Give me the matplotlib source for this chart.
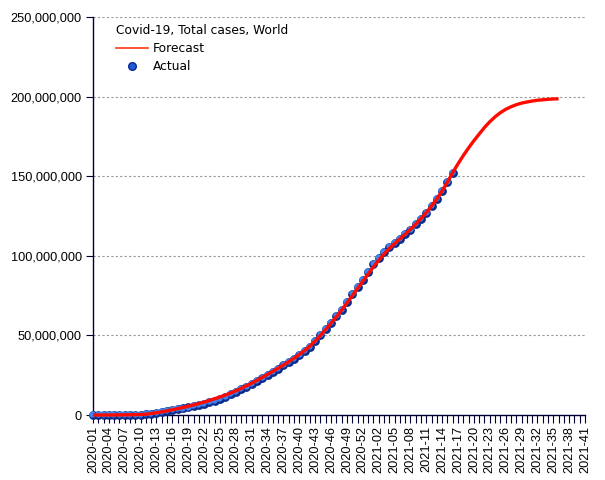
import numpy as np
import matplotlib
matplotlib.use("Agg")
import matplotlib.pyplot as plt
from matplotlib.lines import Line2D
from matplotlib.ticker import FuncFormatter, MultipleLocator
import matplotlib.transforms as mtransforms

# weekly categories 2020-01 .. 2021-41 (2020 has 53 ISO weeks)
weeks = [f"2020-{w:02d}" for w in range(1, 54)] + [f"2021-{w:02d}" for w in range(1, 42)]

# actual cumulative cases (millions), one value per week from 2020-01
actual_m = [0.0, 0.001, 0.003, 0.017, 0.040, 0.069, 0.079, 0.087, 0.11, 0.17,
            0.34, 0.72, 1.27, 1.85, 2.41, 2.97, 3.50, 4.10, 4.72, 5.40,
            6.20, 7.00, 7.92, 8.95, 10.1, 11.4, 12.9, 14.5, 16.2, 17.9,
            19.7, 21.6, 23.4, 25.3, 27.2, 29.2, 31.2, 33.2, 35.3, 37.6,
            40.1, 43.0, 46.5, 50.3, 54.1, 58.0, 62.0, 66.1, 70.8, 75.8,
            80.5, 84.6, 90.0, 94.6, 98.5, 102.3, 105.4, 108.2, 110.8, 113.5,
            116.5, 119.9, 123.3, 126.9, 131.0, 135.5, 140.6, 146.3, 152.3]

# forecast (millions), from 2020-01 to 2021-36
forecast_m = [0.0, 0.0, 0.0, 0.0, 0.0, 0.05, 0.1, 0.15, 0.2, 0.3,
              0.5, 0.9, 1.4, 2.0, 2.6, 3.3, 4.0, 4.7, 5.5, 6.3,
              7.2, 8.1, 9.1, 10.2, 11.3, 12.5, 13.8, 15.2, 16.7, 18.3,
              20.0, 21.8, 23.6, 25.5, 27.4, 29.4, 31.4, 33.5, 35.7, 38.0,
              40.5, 43.3, 46.5, 50.0, 53.8, 57.7, 61.7, 65.9, 70.3, 74.9,
              79.5, 84.0, 88.5, 93.0, 97.2, 101.1, 104.6, 107.7, 110.6, 113.5,
              116.6, 119.9, 123.4, 127.2, 131.3, 135.8, 140.8, 146.3, 152.3, 157.8,
              163.0, 167.8, 172.3, 176.5, 180.6, 184.2, 187.3, 189.9, 192.0, 193.6,
              194.9, 195.9, 196.6, 197.2, 197.7, 198.0, 198.3, 198.5, 198.6]

actual = np.array(actual_m) * 1e6
forecast = np.array(forecast_m) * 1e6
x_act = np.arange(len(actual))
x_fc = np.arange(len(forecast))

navy = "#000033"

fig = plt.figure(figsize=(6.05, 4.8), dpi=100)
ax = fig.add_axes([93 / 605, 65 / 480, 492 / 605, 398 / 480])

# blue "spheres": dark base + lighter highlight
ax.plot(x_act, actual, "o", ms=5.3, mfc="#0b2a8a", mec="#0b2a8a", clip_on=False, zorder=3)
hl = mtransforms.offset_copy(ax.transData, fig=fig, x=-0.5, y=0.7, units="points")
ax.plot(x_act, actual, "o", ms=3.5, mfc="#3f86f0", mec="#3f86f0", transform=hl, clip_on=False, zorder=3)

ax.plot(x_fc, forecast, color="#ff0a00", lw=2.4, solid_capstyle="butt", clip_on=False, zorder=4)

ax.set_xlim(0, len(weeks) - 1)
ax.set_ylim(0, 250e6)
ax.yaxis.set_major_locator(MultipleLocator(50e6))
ax.yaxis.set_major_formatter(FuncFormatter(lambda v, p: f"{int(v):,}"))
ax.set_xticks(np.arange(len(weeks)))
ax.set_xticklabels([w if i % 3 == 0 else "" for i, w in enumerate(weeks)], rotation=90)

for s in ["top", "right"]:
    ax.spines[s].set_visible(False)
for s in ["left", "bottom"]:
    ax.spines[s].set_color(navy)
    ax.spines[s].set_linewidth(1.0)

ax.tick_params(axis="y", length=5, color=navy, labelsize=9.2, pad=3)
ax.tick_params(axis="x", length=6, color=navy, labelsize=9.2, pad=2)
for lab in ax.get_xticklabels() + ax.get_yticklabels():
    lab.set_family("Liberation Sans")

ax.grid(axis="y", color="#999999", linestyle=(0, (2, 2)), linewidth=0.8)
ax.set_axisbelow(True)

handles = [Line2D([], [], color="#ff3311", lw=1.2),
           Line2D([], [], ls="", marker="o", ms=5.5, mfc="#1f5ad8", mec="#0b2a8a")]
leg = ax.legend(handles, ["Forecast", "Actual"], title="Covid-19, Total cases, World",
                loc="upper left", bbox_to_anchor=(0.024, 1.01), frameon=False,
                prop={"family": "DejaVu Sans", "size": 8.8}, handlelength=2.6,
                handletextpad=0.4, labelspacing=0.4, alignment="left")
leg.get_title().set_fontsize(8.8)
leg.get_title().set_family("DejaVu Sans")

fig.savefig("out.png", dpi=100)
